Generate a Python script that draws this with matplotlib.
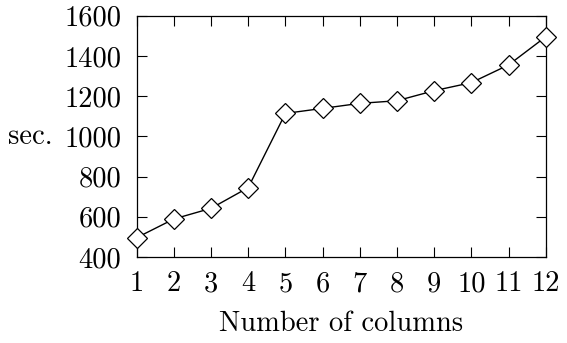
import matplotlib
matplotlib.use("Agg")
import matplotlib.pyplot as plt

columns = [1, 2, 3, 4, 5, 6, 7, 8, 9, 10, 11, 12]
seconds = [496, 589, 642, 745, 1114, 1139, 1164, 1177, 1227, 1267, 1355, 1495]
yticks = [400, 600, 800, 1000, 1200, 1400, 1600]

plt.rcParams['font.family'] = 'serif'
plt.rcParams['font.serif'] = ['cmr10', 'DejaVu Serif']
plt.rcParams['mathtext.fontset'] = 'cm'
plt.rcParams['axes.unicode_minus'] = False

fig = plt.figure(figsize=(5.67, 3.43), dpi=100)
ax = fig.add_axes([0.241, 0.2507, 0.7215, 0.7036])
ax.plot(columns, seconds, color='black', lw=1.0, marker='D', ms=10,
        mfc='white', mec='black', mew=0.9, clip_on=False, zorder=3)
ax.set_xlim(1, 12)
ax.set_ylim(400, 1600)
ax.set_xticks(columns)
ax.set_xticklabels([str(c) for c in columns])
ax.set_yticks(yticks)
ax.set_yticklabels([str(v) for v in yticks])
ax.tick_params(direction='in', length=7.5, width=0.8, top=True, right=True,
               labelsize=20.5)
ax.tick_params(axis='x', pad=10)
ax.tick_params(axis='y', pad=11)
for s in ax.spines.values():
    s.set_linewidth(0.9)
ax.set_xlabel('Number of columns', fontsize=20.5, labelpad=10)
ax.set_ylabel('sec.', fontsize=20.5, rotation=0, va='center')
ax.yaxis.set_label_coords(-0.261, 0.5)
fig.savefig('out.png', dpi=100)
